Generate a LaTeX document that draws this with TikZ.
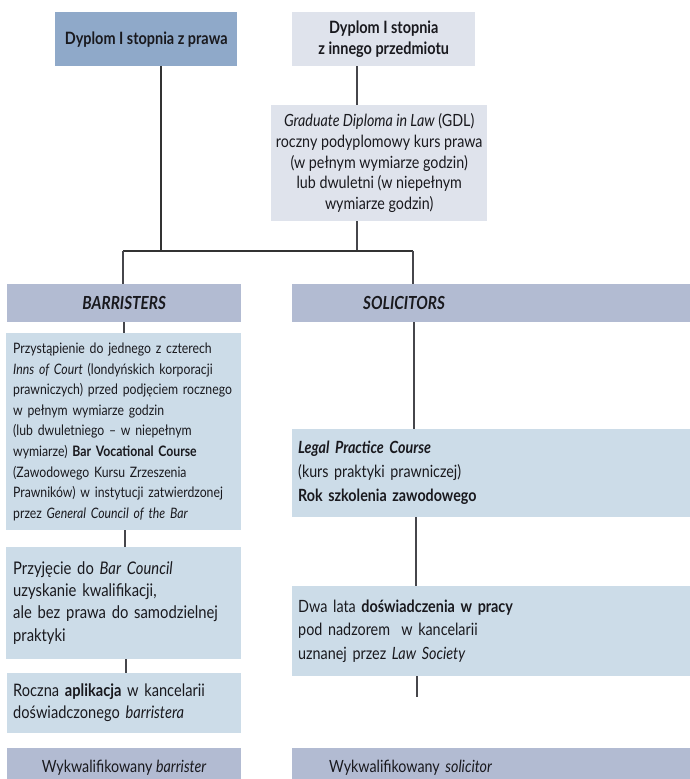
\documentclass[tikz,border=0pt]{standalone}
\usepackage{fontspec}
\setmainfont{Lato}[FakeStretch=0.85]
\definecolor{cA}{RGB}{143,169,201}
\definecolor{cB}{RGB}{223,227,236}
\definecolor{cC}{RGB}{178,187,210}
\definecolor{cD}{RGB}{204,220,232}
\definecolor{txt}{RGB}{25,25,30}
\definecolor{ln}{RGB}{70,70,75}
\begin{document}
\begin{tikzpicture}[x=1pt,y=-1pt,
  bx/.style={rectangle, anchor=north west, inner ysep=0pt, text=txt},
  conn/.style={draw=ln, line width=1.1pt}]
\useasboundingbox (0,0) rectangle (690,779);
\clip (0,0) rectangle (690,779);

\node[bx, fill=cA, minimum width=182pt, minimum height=54pt, inner xsep=0pt, align=center, font=\fontsize{17}{21}\selectfont\bfseries] (b1) at (55,12) {Dyplom I stopnia z prawa};
\node[bx, fill=cB, minimum width=183pt, minimum height=54pt, inner xsep=0pt, align=center, font=\fontsize{17}{21}\selectfont\bfseries] (b2) at (292,12) {Dyplom I stopnia\\z innego przedmiotu};
\node[bx, fill=cB, minimum width=216pt, minimum height=116pt, inner xsep=0pt, align=center, font=\fontsize{16.8}{20.8}\selectfont] (gdl) at (271,105) {\textit{Graduate Diploma in Law} (GDL)\\roczny podyplomowy kurs prawa\\(w pełnym wymiarze godzin)\\lub dwuletni (w niepełnym\\wymiarze godzin)};

\node[bx, fill=cC, minimum width=234pt, minimum height=38pt, inner xsep=0pt, align=center, font=\fontsize{18}{20}\selectfont\bfseries\itshape] (bar) at (7,284) {BARRISTERS};
\node[bx, fill=cC, minimum width=398pt, minimum height=38pt, text width=398pt, inner xsep=0pt, align=left, font=\fontsize{18}{20}\selectfont\bfseries\itshape] (sol) at (292,284) {\hspace*{71pt}SOLICITORS};

\node[bx, fill=cD, minimum width=235pt, minimum height=197pt, text width=221pt, inner xsep=7pt, align=left, font=\fontsize{14.4}{20.6}\selectfont] (bt) at (6,333) {\begin{tabular}{@{}l@{}}Przystąpienie do jednego z czterech\\\textit{Inns of Court} (londyńskich korporacji\\prawniczych) przed podjęciem rocznego\\w pełnym wymiarze godzin\\(lub dwuletniego -- w niepełnym\\wymiarze) \textbf{Bar Vocational Course}\\(Zawodowego Kursu Zrzeszenia\\Prawników) w instytucji zatwierdzonej\\przez \textit{General Council of the Bar}\end{tabular}};

\node[bx, fill=cD, minimum width=398pt, minimum height=88pt, text width=386pt, inner xsep=6pt, align=left, font=\fontsize{16.8}{24}\selectfont] (lpc) at (292,429) {\textbf{\textit{Legal Practice Course}}\\(kurs praktyki prawniczej)\\\textbf{Rok szkolenia zawodowego}};

\node[bx, fill=cD, minimum width=235pt, minimum height=112pt, text width=221pt, inner xsep=7pt, align=left, font=\fontsize{17.4}{22.3}\selectfont] (prz) at (6,547) {\begin{tabular}{@{}l@{}}Przyjęcie do \textit{Bar Council}\\uzyskanie kwalifikacji,\\ale bez prawa do samodzielnej\\praktyki\end{tabular}};

\node[bx, fill=cD, minimum width=398pt, minimum height=90pt, text width=386pt, inner xsep=6pt, align=left, font=\fontsize{16.9}{23.5}\selectfont] (dwa) at (292,586) {Dwa lata \textbf{doświadczenia w pracy}\\pod nadzorem~ w kancelarii\\uznanej przez \textit{Law Society}};

\node[bx, fill=cD, minimum width=234pt, minimum height=60pt, text width=222pt, inner xsep=6pt, align=left, font=\fontsize{17.2}{21.5}\selectfont] (roc) at (7,673) {\begin{tabular}{@{}l@{}}Roczna \textbf{aplikacja} w kancelarii\\doświadczonego \textit{barristera}\end{tabular}};

\node[bx, fill=cC, minimum width=234pt, minimum height=40pt, inner xsep=0pt, align=center, font=\fontsize{16.8}{20}\selectfont] (fb) at (7,748) {Wykwalifikowany \textit{barrister}};
\node[bx, fill=cC, minimum width=398pt, minimum height=40pt, text width=398pt, inner xsep=0pt, align=left, font=\fontsize{16.8}{20}\selectfont] (fs) at (292,748) {\hspace*{37pt}Wykwalifikowany \textit{solicitor}};

% connectors
\coordinate (jl) at (123,251);
\coordinate (jr) at (413,251);
\coordinate (j1) at (161,251);
\coordinate (j2) at (357,251);
\coordinate (xg) at (357,0);
\coordinate (xl1) at (124,0);
\coordinate (xl2) at (125,0);
\coordinate (xl3) at (126,0);
\coordinate (xr1) at (414,0);
\coordinate (xr2) at (416,0);
\coordinate (endr) at (417,697);

\draw[conn, draw=black!80] (b1.south -| j1) -- (j1);
\draw[conn] (b2.south -| xg) -- (gdl.north -| xg);
\draw[conn] (gdl.south -| xg) -- (j2);
\draw[conn, draw=black!80] (jl) -- (jr);
\draw[conn] (jl) -- (bar.north -| jl);
\draw[conn] (jr) -- (sol.north -| jr);
\draw[conn] (bar.south -| xl1) -- (bt.north -| xl1);
\draw[conn] (bt.south -| xl2) -- (prz.north -| xl2);
\draw[conn] (prz.south -| xl3) -- (roc.north -| xl3);
\draw[conn] (sol.south -| xr1) -- (lpc.north -| xr1);
\draw[conn] (lpc.south -| xr2) -- (dwa.north -| xr2);
\draw[conn] (dwa.south -| endr) -- (endr);
\end{tikzpicture}
\end{document}
